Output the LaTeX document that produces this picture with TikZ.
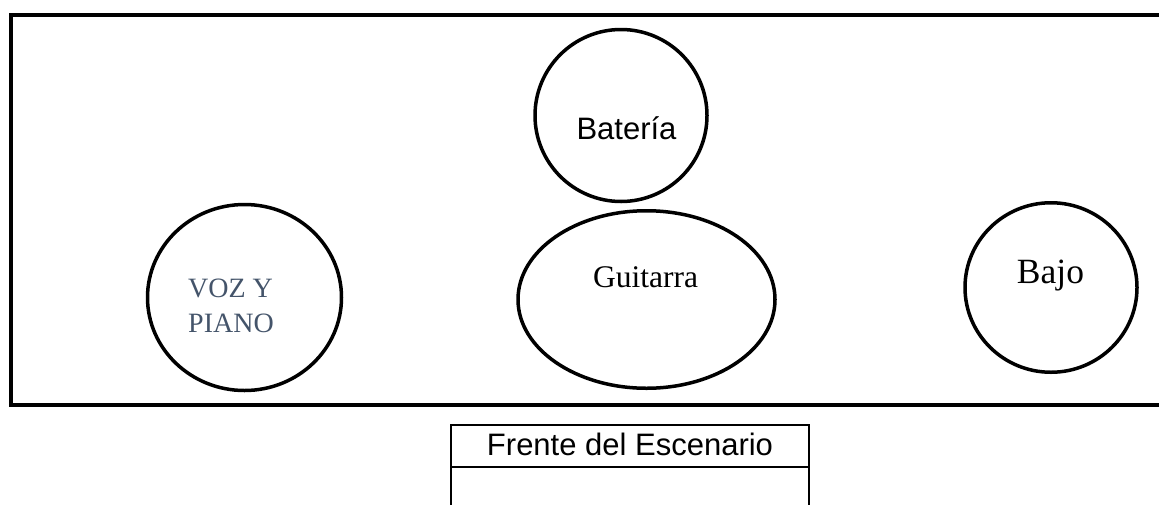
\documentclass[tikz,border=0pt]{standalone}
\usepackage{fontspec}
\setmainfont{Liberation Serif}
\newfontfamily\arialf{Liberation Sans}
\usetikzlibrary{shapes.geometric}
\definecolor{slate}{HTML}{44546A}
\tikzset{
  member/.style={ellipse, draw=black, line width=3.5pt, inner sep=0pt},
  lbl/.style={inner sep=0pt, anchor=base},
  cell/.style={draw=black, line width=2pt, inner sep=0pt, anchor=north west}
}
\begin{document}
\begin{tikzpicture}[x=1pt,y=-1pt]
\useasboundingbox (0,0) rectangle (1159,504);
\clip (0,0) rectangle (1159,504);
% stage outline (right side runs off the page)
\draw[line width=4pt] (1175,15) -- (11,15) -- (11,404.5) -- (1175,404.5);
% members
\node[member, minimum width=194pt, minimum height=186pt] (voz) at (244.5,297.5) {};
\node[member, minimum width=172pt, minimum height=172pt] (bateria) at (621,115.5) {};
\node[member, minimum width=257pt, minimum height=177.5pt] (guitarra) at (646.5,299.5) {};
\node[member, minimum width=172pt, minimum height=169.5pt] (bajo) at (1051,287.5) {};
% labels
\node[lbl, anchor=base west, text=slate, font=\fontsize{28}{35}\selectfont] (voztxt1) at (188,297) {VOZ Y};
\node[lbl, anchor=base west, text=slate, font=\fontsize{28}{35}\selectfont] (voztxt2) at (188,332) {PIANO};
\node[lbl, font=\arialf\fontsize{31}{37}\selectfont] (battxt) at (626.5,139) {Batería};
\node[lbl, font=\fontsize{31.5}{37}\selectfont] (guitxt) at (645.5,287) {Guitarra};
\node[lbl, font=\fontsize{35.5}{42}\selectfont] (bajotxt) at (1050.5,283) {Bajo};
% front of stage table
\node[cell, minimum width=358pt, minimum height=42pt] (frente) at (450,424) {};
\node[cell, minimum width=358pt, minimum height=50pt] (frentevacio) at (450,466) {};
\node[lbl, font=\arialf\fontsize{31}{37}\selectfont] (frentetxt) at (630,455) {Frente del Escenario};
\end{tikzpicture}
\end{document}
